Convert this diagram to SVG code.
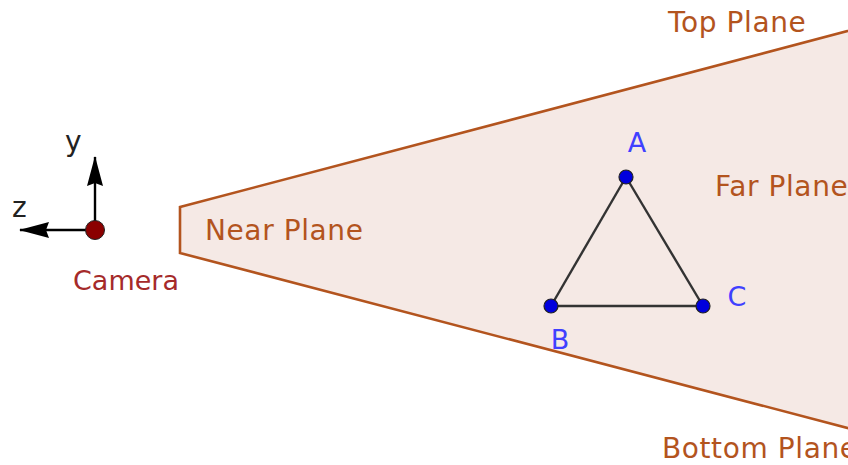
<svg xmlns="http://www.w3.org/2000/svg" width="848" height="465" viewBox="0 0 848 465">
<defs>
<style>
.plane{font-family:"DejaVu Sans",sans-serif;font-size:28px;fill:#b3541e;letter-spacing:0.6px}
.pt{font-family:"DejaVu Sans",sans-serif;font-size:27px;fill:#4040ff}
.ax{font-family:"DejaVu Sans",sans-serif;font-size:28px;fill:#222}
.edge{stroke:#333;stroke-width:2.4;fill:none}
.vert{fill:#0000dd;stroke:#222;stroke-width:1.2}
</style>
<marker id="ah" viewBox="0 0 30 16" refX="29" refY="8" markerWidth="30" markerHeight="16" markerUnits="userSpaceOnUse" orient="auto">
<path d="M0,0 L30,8 L0,16 L3,8 Z" fill="#000"/>
</marker>
</defs>
<rect width="848" height="465" fill="#fff"/>
<g id="frustum">
<polygon points="180,207 860,27.8 860,431.2 180,253" fill="#f5e9e5" stroke="#b3541e" stroke-width="2.6" stroke-linejoin="miter"/>
<text class="plane" x="668" y="32">Top Plane</text>
<text class="plane" x="205" y="240">Near Plane</text>
<text class="plane" x="715" y="196">Far Plane</text>
<text class="plane" x="662" y="458">Bottom Plane</text>
</g>
<g id="connectors">
<line class="edge" x1="626" y1="177" x2="551" y2="306"/>
<line class="edge" x1="626" y1="177" x2="703" y2="306"/>
<line class="edge" x1="551" y1="306" x2="703" y2="306"/>
<line x1="95" y1="230" x2="95" y2="157" stroke="#000" stroke-width="2.4" marker-end="url(#ah)"/>
<line x1="95" y1="230" x2="20" y2="230" stroke="#000" stroke-width="2.4" marker-end="url(#ah)"/>
</g>
<g id="camera">
<circle cx="95" cy="230" r="9.5" fill="#8b0000" stroke="#222" stroke-width="1"/>
<text x="126" y="290" text-anchor="middle" font-family="DejaVu Sans,sans-serif" font-size="27" fill="#a52a2a">Camera</text>
<text class="ax" x="65" y="151">y</text>
<text class="ax" x="12" y="217">z</text>
</g>
<g id="A">
<circle class="vert" cx="626" cy="177" r="7"/>
<text class="pt" x="637" y="152" text-anchor="middle">A</text>
</g>
<g id="B">
<circle class="vert" cx="551" cy="306" r="7"/>
<text class="pt" x="560" y="349" text-anchor="middle">B</text>
</g>
<g id="C">
<circle class="vert" cx="703" cy="306" r="7"/>
<text class="pt" x="737" y="306" text-anchor="middle">C</text>
</g>
</svg>
